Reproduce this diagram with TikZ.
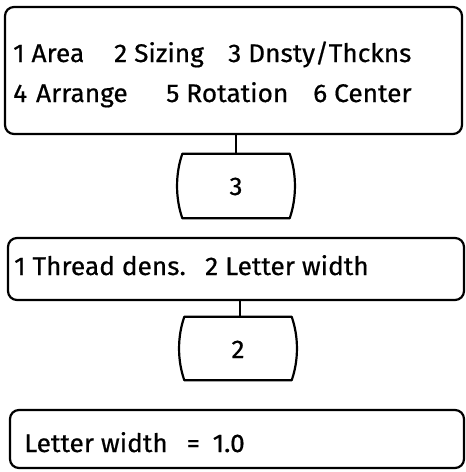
\documentclass[tikz,border=0pt]{standalone}
\usepackage{fontspec}
\setmainfont{Fira Sans}[FakeBold=0.6,FakeStretch=1.03]
\usetikzlibrary{calc}
\begin{document}
\begin{tikzpicture}[x=1pt,y=-1pt,
  bx/.style={draw,line width=2.2pt,rounded corners=9pt,inner sep=0pt},
  sb/.style={inner sep=0pt},
  txt/.style={anchor=base west,inner sep=0pt,font=\fontsize{25.5}{28}\selectfont},
  ln/.style={line width=2.2pt},
  barrel/.style={ln,line join=round}]
\useasboundingbox (0,0) rectangle (466,472);
\node[bx,minimum width=457pt,minimum height=127pt] (box1) at (233.5,70.5) {};
\node[sb,minimum width=107pt,minimum height=64pt] (b3) at (236,186) {};
\node[bx,minimum width=456pt,minimum height=62pt] (box2) at (236,269) {};
\node[sb,minimum width=107pt,minimum height=63pt] (b2) at (238,348.5) {};
\node[bx,minimum width=454pt,minimum height=58pt] (box3) at (237,439) {};
\draw[barrel] (b3.north west) -- (b3.north east)
  .. controls ($(b3.north east)+(7,20)$) and ($(b3.south east)+(7,-20)$) .. (b3.south east)
  -- (b3.south west)
  .. controls ($(b3.south west)+(-7,-20)$) and ($(b3.north west)+(-7,20)$) .. cycle;
\draw[barrel] (b2.north west) -- (b2.north east)
  .. controls ($(b2.north east)+(7,20)$) and ($(b2.south east)+(7,-20)$) .. (b2.south east)
  -- (b2.south west)
  .. controls ($(b2.south west)+(-7,-20)$) and ($(b2.north west)+(-7,20)$) .. cycle;
\draw[ln] (b3.north) -- (b3.north |- box1.south);
\draw[ln] ($(b2.north)+(2,0)$) -- ($(b2.north |- box2.south)+(2,0)$);
\node[txt] (t1) at (13,62) {1 Area};
\node[txt] (t2) at (114,62) {2 Sizing};
\node[txt] (t3) at (228,62) {3 Dnsty/Thckns};
\node[txt] (t4) at (13,102) {4\hspace{0.35em}Arrange};
\node[txt] (t5) at (166,102) {5 Rotation};
\node[txt] (t6) at (313,102) {6 Center};
\node[txt] (t7) at (14,275) {1 Thread dens.};
\node[txt] (t8) at (205,275) {2 Letter width};
\node[txt] (t9) at (24,452) {Letter width\hspace{0.75em}=\hspace{0.5em}1.0};
\node[txt,anchor=base] (n3) at (236,195) {3};
\node[txt,anchor=base] (n2) at (238,358) {2};
\end{tikzpicture}
\end{document}
